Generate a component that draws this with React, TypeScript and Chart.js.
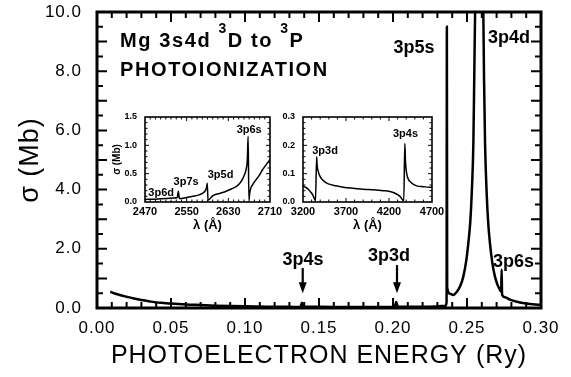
import React, { useEffect, useRef } from "react";
import { Chart, registerables } from "chart.js";

Chart.register(...registerables);

const FONT = "'Liberation Sans', Arial, Helvetica, sans-serif";

// Main spectrum: photoelectron energy (Ry) against cross section (Mb)
const energyRy = [
  0.009, 0.012, 0.016, 0.02, 0.025, 0.03, 0.035, 0.04, 0.045, 0.05,
  0.06, 0.07, 0.08, 0.09, 0.1, 0.115, 0.13, 0.1375, 0.1385, 0.1395,
  0.15, 0.17, 0.19, 0.201, 0.2022, 0.2032, 0.215, 0.23, 0.2355, 0.2362,
  0.2364, 0.2366, 0.2385, 0.2407, 0.2432, 0.2455, 0.2475, 0.2495, 0.2509, 0.2522,
  0.2532, 0.2543, 0.2549, 0.2555, 0.2568, 0.2582, 0.2597, 0.261, 0.2615, 0.2622,
  0.2633, 0.2643, 0.2655, 0.2672, 0.2689, 0.2705, 0.2722, 0.2731, 0.2734, 0.2737,
  0.2757, 0.279, 0.2836, 0.29, 0.2993,
];
const sigmaMb = [
  0.55, 0.49, 0.43, 0.38, 0.32, 0.27, 0.23, 0.19, 0.17, 0.15,
  0.12, 0.1, 0.08, 0.065, 0.055, 0.045, 0.04, 0.035, 0.18, 0.05,
  0.04, 0.035, 0.035, 0.03, 0.2, 0.05, 0.04, 0.05, 0.08, 0.2,
  9.5, 0.7, 0.48, 0.44, 0.55, 0.75, 1.06, 1.6, 2.19, 2.9,
  3.87, 5.56, 7.8, 10.1, 14.0, 16.5, 14.0, 10.1, 7.8, 5.56,
  3.87, 2.9, 2.19, 1.5, 1.06, 0.8, 0.62, 0.55, 1.3, 0.45,
  0.36, 0.28, 0.21, 0.15, 0.11,
];
const energyTickValues = [0, 0.05, 0.1, 0.15, 0.2, 0.25, 0.3];
const sigmaTickValues = [0, 2, 4, 6, 8, 10];

// Inset A: wavelength (Å) against cross section (Mb), 2470–2710 Å
const lambdaA = [
  2470, 2490, 2511, 2525, 2532, 2534, 2536, 2550, 2562, 2575,
  2583, 2588, 2589.5, 2591, 2600, 2613, 2626, 2636, 2645, 2652,
  2657, 2661, 2664, 2666.5, 2668, 2669.5, 2671, 2673, 2677, 2683,
  2690, 2695, 2702, 2710,
];
const sigmaA = [
  0.045, 0.05, 0.06, 0.07, 0.08, 0.19, 0.06, 0.08, 0.1, 0.13,
  0.17, 0.25, 0.33, 0.03, 0.11, 0.15, 0.19, 0.23, 0.27, 0.33,
  0.4, 0.48, 0.57, 0.75, 1.16, 0.04, 0.15, 0.24, 0.31, 0.39,
  0.48, 0.56, 0.65, 0.75,
];
const lambdaATickValues = [2470, 2550, 2630, 2710];
const sigmaATickValues = [0, 0.5, 1.0, 1.5];

// Inset B: wavelength (Å) against cross section (Mb), 3200–4700 Å
const lambdaB = [
  3200, 3230, 3262, 3290, 3313, 3335, 3345, 3359, 3364, 3378,
  3395, 3417, 3450, 3495, 3580, 3669, 3800, 3901, 4020, 4134,
  4210, 4270, 4310, 4336, 4360, 4372, 4384, 4392, 4406, 4425,
  4444, 4480, 4522, 4600, 4677, 4700,
];
const sigmaB = [
  0.057, 0.052, 0.045, 0.035, 0.025, 0.01, 0.004, 0.16, 0.13, 0.107,
  0.092, 0.082, 0.072, 0.064, 0.057, 0.052, 0.048, 0.045, 0.043, 0.04,
  0.037, 0.031, 0.024, 0.017, 0.007, 0.004, 0.207, 0.14, 0.1, 0.08,
  0.072, 0.063, 0.057, 0.054, 0.052, 0.052,
];
const lambdaBTickValues = [3200, 3700, 4200, 4700];
const sigmaBTickValues = [0, 0.1, 0.2, 0.3];

// Resonance labels (text, x value, y value at the text baseline)
const mainLabels = [
  { text: "3p5s", x: 0.2142, y: 8.63 },
  { text: "3p4d", x: 0.2784, y: 8.96 },
  { text: "3p6s", x: 0.2814, y: 1.4 },
  { text: "3p4s", x: 0.1392, y: 1.45 },
  { text: "3p3d", x: 0.1973, y: 1.6 },
];
const mainArrows = [
  { x: 0.139, from: 1.35, to: 0.5 },
  { x: 0.2027, from: 1.45, to: 0.5 },
];
const insetALabels = [
  { text: "3p6s", x: 2670, y: 1.217 },
  { text: "3p5d", x: 2615, y: 0.423 },
  { text: "3p7s", x: 2549, y: 0.3 },
  { text: "3p6d", x: 2501, y: 0.106 },
];
const insetBLabels = [
  { text: "3p3d", x: 3456, y: 0.17 },
  { text: "3p4s", x: 4392, y: 0.231 },
];

type FrameOpts = {
  lineWidth: number;
  tickWidth: number;
  xStep: number;
  xMajorEvery: number;
  yStep: number;
  yMajorEvery: number;
  minorLen: number;
  majorLen: number;
};

// Box around the plot area with inward ticks on all four sides
function framePlugin(o: FrameOpts) {
  return {
    id: "frame",
    afterDatasetsDraw(chart: any) {
      const { ctx, chartArea: a, scales } = chart;
      const xs = scales.x;
      const ys = scales.y;
      ctx.save();
      ctx.strokeStyle = "#000";
      ctx.lineWidth = o.tickWidth;
      ctx.beginPath();
      const nx = Math.round((xs.max - xs.min) / o.xStep);
      for (let i = 1; i < nx; i++) {
        const px = xs.getPixelForValue(xs.min + i * o.xStep);
        const len = i % o.xMajorEvery === 0 ? o.majorLen : o.minorLen;
        ctx.moveTo(px, a.bottom);
        ctx.lineTo(px, a.bottom - len);
        ctx.moveTo(px, a.top);
        ctx.lineTo(px, a.top + len);
      }
      const ny = Math.round((ys.max - ys.min) / o.yStep);
      for (let i = 1; i < ny; i++) {
        const py = ys.getPixelForValue(ys.min + i * o.yStep);
        const len = i % o.yMajorEvery === 0 ? o.majorLen : o.minorLen;
        ctx.moveTo(a.left, py);
        ctx.lineTo(a.left + len, py);
        ctx.moveTo(a.right, py);
        ctx.lineTo(a.right - len, py);
      }
      ctx.stroke();
      ctx.lineWidth = o.lineWidth;
      ctx.strokeRect(a.left, a.top, a.right - a.left, a.bottom - a.top);
      ctx.restore();
    },
  };
}

function spacingPlugin(spacing: string) {
  return {
    id: "spacing",
    beforeDraw(chart: any) {
      chart.ctx.letterSpacing = spacing;
    },
  };
}

function labelPlugin(labels: { text: string; x: number; y: number }[], font: string) {
  return {
    id: "labels",
    afterDraw(chart: any) {
      const { ctx, scales } = chart;
      ctx.save();
      ctx.letterSpacing = "0px";
      ctx.fillStyle = "#000";
      ctx.font = font;
      ctx.textAlign = "center";
      ctx.textBaseline = "alphabetic";
      for (const l of labels) {
        ctx.fillText(l.text, scales.x.getPixelForValue(l.x), scales.y.getPixelForValue(l.y));
      }
      ctx.restore();
    },
  };
}

// Arrows pointing at the weak resonances and the two-line heading
const mainExtras = {
  id: "mainExtras",
  afterDraw(chart: any) {
    const { ctx, scales } = chart;
    const xs = scales.x;
    const ys = scales.y;
    ctx.save();
    ctx.fillStyle = "#000";
    ctx.strokeStyle = "#000";
    ctx.lineWidth = 2.2;
    for (const a of mainArrows) {
      const px = xs.getPixelForValue(a.x);
      const top = ys.getPixelForValue(a.from);
      const tip = ys.getPixelForValue(a.to);
      ctx.beginPath();
      ctx.moveTo(px, top);
      ctx.lineTo(px, tip - 8);
      ctx.stroke();
      ctx.beginPath();
      ctx.moveTo(px - 4, tip - 11);
      ctx.lineTo(px + 4, tip - 11);
      ctx.lineTo(px, tip);
      ctx.closePath();
      ctx.fill();
    }

    ctx.textAlign = "left";
    ctx.textBaseline = "alphabetic";
    ctx.letterSpacing = "1.6px";
    const headX = chart.chartArea.left + 23;
    const segs: [string, boolean][] = [
      ["Mg 3s4d ", false],
      ["3", true],
      ["D to ", false],
      ["3", true],
      ["P", false],
    ];
    let cx = headX;
    const base1 = 47;
    for (const [t, sup] of segs) {
      ctx.font = sup ? `bold 14px ${FONT}` : `bold 20px ${FONT}`;
      ctx.fillText(t, cx, sup ? base1 - 14 : base1);
      cx += ctx.measureText(t).width;
    }
    ctx.font = `bold 20px ${FONT}`;
    ctx.fillText("PHOTOIONIZATION", headX, 75.5);
    ctx.restore();
  },
};

// Keep the plot area exactly where the layout asks for it
function fitX(height: number) {
  return (s: any) => {
    s.height = height;
    s.paddingLeft = 0;
    s.paddingRight = 0;
  };
}
function fitY(width: number) {
  return (s: any) => {
    s.width = width;
    s.paddingTop = 0;
    s.paddingBottom = 0;
  };
}

function makeInset(
  canvas: HTMLCanvasElement,
  xs: number[],
  ys: number[],
  cfg: {
    xMin: number;
    xMax: number;
    yMin: number;
    yMax: number;
    xTicks: number[];
    yTicks: number[];
    yWidth: number;
    padRight: number;
    yTitle: string | null;
    labels: { text: string; x: number; y: number }[];
    frame: FrameOpts;
  }
) {
  return new Chart(canvas, {
    type: "line",
    data: {
      datasets: [
        {
          data: xs.map((v, i) => ({ x: v, y: ys[i] })),
          borderColor: "#000",
          borderWidth: 1.5,
          pointRadius: 0,
          fill: false,
          cubicInterpolationMode: "monotone",
        },
      ],
    },
    options: {
      responsive: false,
      animation: false,
      devicePixelRatio: 1,
      events: [],
      layout: { padding: { top: 12, right: cfg.padRight, left: 0, bottom: 0 } },
      plugins: { legend: { display: false }, tooltip: { enabled: false } },
      scales: {
        x: {
          type: "linear",
          min: cfg.xMin,
          max: cfg.xMax,
          afterFit: fitX(38),
          afterBuildTicks: (s: any) => {
            s.ticks = cfg.xTicks.map((v) => ({ value: v }));
          },
          grid: { display: false, drawTicks: false },
          border: { display: false },
          ticks: {
            padding: 3,
            color: "#000",
            font: { family: FONT, size: 11, weight: "bold" },
            maxRotation: 0,
            autoSkip: false,
            callback: (v: any) => String(v),
          },
          title: {
            display: true,
            text: "λ (Å)",
            color: "#000",
            font: { family: FONT, size: 13, weight: "bold" },
            padding: { top: 0, bottom: 7 },
          },
        },
        y: {
          type: "linear",
          min: cfg.yMin,
          max: cfg.yMax,
          afterFit: fitY(cfg.yWidth),
          afterBuildTicks: (s: any) => {
            s.ticks = cfg.yTicks.map((v) => ({ value: v }));
          },
          grid: { display: false, drawTicks: false },
          border: { display: false },
          ticks: {
            padding: 8,
            color: "#000",
            font: { family: FONT, size: 9, weight: "bold" },
            callback: (v: any) => Number(v).toFixed(1),
          },
          title: {
            display: !!cfg.yTitle,
            text: cfg.yTitle || "",
            color: "#000",
            font: { family: FONT, size: 10, weight: "bold" },
            padding: { top: 11, bottom: 0 },
          },
        },
      },
    },
    plugins: [framePlugin(cfg.frame), labelPlugin(cfg.labels, `bold 11px ${FONT}`)],
  } as any);
}

export default function App() {
  const mainRef = useRef<HTMLCanvasElement>(null);
  const insetARef = useRef<HTMLCanvasElement>(null);
  const insetBRef = useRef<HTMLCanvasElement>(null);

  useEffect(() => {
    const main = new Chart(mainRef.current!, {
      type: "line",
      data: {
        datasets: [
          {
            data: energyRy.map((e, i) => ({ x: e, y: sigmaMb[i] })),
            borderColor: "#000",
            borderWidth: 2.5,
            pointRadius: 0,
            fill: false,
            cubicInterpolationMode: "monotone",
          },
        ],
      },
      options: {
        responsive: false,
        animation: false,
        devicePixelRatio: 1,
        events: [],
        layout: { padding: { top: 12, right: 30, left: 0, bottom: 0 } },
        plugins: { legend: { display: false }, tooltip: { enabled: false } },
        scales: {
          x: {
            type: "linear",
            min: 0,
            max: 0.3,
            afterFit: fitX(69),
            afterBuildTicks: (s: any) => {
              s.ticks = energyTickValues.map((v) => ({ value: v }));
            },
            grid: { display: false, drawTicks: false },
            border: { display: false },
            ticks: {
              padding: 10,
              color: "#000",
              maxRotation: 0,
              autoSkip: false,
              font: { family: FONT, size: 17 },
              callback: (v: any) => Number(v).toFixed(2),
            },
            title: {
              display: true,
              text: "PHOTOELECTRON ENERGY (Ry)",
              color: "#000",
              font: { family: FONT, size: 25 },
              padding: { top: 0, bottom: 6 },
            },
          },
          y: {
            type: "linear",
            min: 0,
            max: 10,
            afterFit: fitY(97),
            afterBuildTicks: (s: any) => {
              s.ticks = sigmaTickValues.map((v) => ({ value: v }));
            },
            grid: { display: false, drawTicks: false },
            border: { display: false },
            ticks: {
              padding: 15,
              color: "#000",
              font: { family: FONT, size: 17 },
              callback: (v: any) => Number(v).toFixed(1),
            },
            title: {
              display: true,
              text: "σ (Mb)",
              color: "#000",
              font: { family: FONT, size: 27 },
              padding: { top: 14, bottom: 0 },
            },
          },
        },
      },
      plugins: [
        spacingPlugin("1px"),
        framePlugin({
          lineWidth: 3,
          tickWidth: 2,
          xStep: 0.01,
          xMajorEvery: 5,
          yStep: 0.5,
          yMajorEvery: 2,
          minorLen: 6,
          majorLen: 10,
        }),
        labelPlugin(mainLabels, `bold 18px ${FONT}`),
        mainExtras,
      ],
    } as any);

    const insetA = makeInset(insetARef.current!, lambdaA, sigmaA, {
      xMin: 2470,
      xMax: 2710,
      yMin: 0,
      yMax: 1.5,
      xTicks: lambdaATickValues,
      yTicks: sigmaATickValues,
      yWidth: 45,
      padRight: 20,
      yTitle: "σ (Mb)",
      labels: insetALabels,
      frame: {
        lineWidth: 1.6,
        tickWidth: 1,
        xStep: 10,
        xMajorEvery: 8,
        yStep: 0.1,
        yMajorEvery: 5,
        minorLen: 2.5,
        majorLen: 4,
      },
    });

    const insetB = makeInset(insetBRef.current!, lambdaB, sigmaB, {
      xMin: 3200,
      xMax: 4700,
      yMin: 0,
      yMax: 0.3,
      xTicks: lambdaBTickValues,
      yTicks: sigmaBTickValues,
      yWidth: 28,
      padRight: 20,
      yTitle: null,
      labels: insetBLabels,
      frame: {
        lineWidth: 1.6,
        tickWidth: 1,
        xStep: 100,
        xMajorEvery: 5,
        yStep: 0.02,
        yMajorEvery: 5,
        minorLen: 2.5,
        majorLen: 4,
      },
    });

    return () => {
      main.destroy();
      insetA.destroy();
      insetB.destroy();
    };
  }, []);

  return (
    <div style={{ position: "fixed", left: 0, top: 0, width: 571, height: 377, background: "#fff" }}>
      <canvas ref={mainRef} width={571} height={377} style={{ position: "absolute", left: 0, top: 0 }} />
      <canvas ref={insetARef} width={190} height={135} style={{ position: "absolute", left: 100, top: 105 }} />
      <canvas ref={insetBRef} width={177} height={135} style={{ position: "absolute", left: 275, top: 105 }} />
    </div>
  );
}
